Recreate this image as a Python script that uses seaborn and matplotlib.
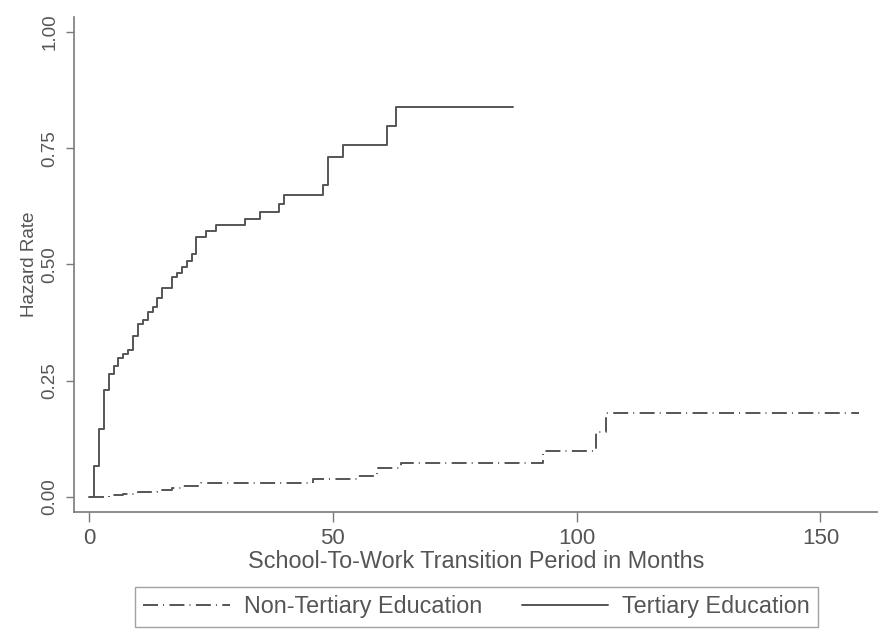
import matplotlib
matplotlib.use("Agg")
import matplotlib.pyplot as plt
import seaborn as sns

# step points: month of the step, rate after the step
tert_months = [0, 1, 2, 3, 4, 5, 6, 7, 8, 9, 10, 11, 12, 13, 14, 15, 17, 18,
               19, 20, 21, 22, 24, 26, 32, 35, 39, 40, 48, 49, 52, 61, 63, 87]
tert_rate = [0.0, 0.067, 0.146, 0.230, 0.265, 0.281, 0.298, 0.308, 0.316,
             0.346, 0.372, 0.381, 0.398, 0.409, 0.427, 0.449, 0.474, 0.482,
             0.495, 0.508, 0.523, 0.559, 0.571, 0.585, 0.598, 0.613, 0.629,
             0.649, 0.670, 0.731, 0.756, 0.797, 0.839, 0.839]

nontert_months = [0, 4, 7, 10, 14, 17, 19, 23, 46, 55, 59, 64, 93, 104, 106, 158]
nontert_rate = [0.0, 0.004, 0.007, 0.010, 0.016, 0.020, 0.024, 0.031, 0.038,
                0.046, 0.062, 0.074, 0.100, 0.139, 0.180, 0.180]

x_ticks = [0, 50, 100, 150]
y_ticks = [0.0, 0.25, 0.50, 0.75, 1.00]
series_names = ["Non-Tertiary Education", "Tertiary Education"]
x_title = "School-To-Work Transition Period in Months"
y_title = "Hazard Rate"

sns.set_theme(style="white")
plt.rcParams["font.family"] = ["Liberation Sans", "DejaVu Sans"]

TEXT = "#555555"
LINE = "#555555"
AXIS = "#7a7a7a"

fig = plt.figure(figsize=(8.79, 6.31), dpi=100)
ax = fig.add_axes([0.0842, 0.1886, 0.9158, 0.7845])

sns.lineplot(x=nontert_months, y=nontert_rate, drawstyle="steps-post",
             color=LINE, lw=1.4, linestyle=(0, (7.7, 2.6, 0.5, 2.8)),
             label=series_names[0], estimator=None, ax=ax)
sns.lineplot(x=tert_months, y=tert_rate, drawstyle="steps-post",
             color=LINE, lw=1.4, label=series_names[1], estimator=None, ax=ax)

ax.set_xlim(-3.1, 162)
ax.set_ylim(-0.032, 1.032)

sns.despine(ax=ax)
for side in ["left", "bottom"]:
    ax.spines[side].set_color(AXIS)
    ax.spines[side].set_linewidth(1.2)

ax.set_xticks(x_ticks)
ax.set_xticklabels([str(t) for t in x_ticks], fontsize=16, color=TEXT)
ax.set_yticks(y_ticks)
ax.set_yticklabels([f"{v:.2f}" for v in y_ticks], fontsize=13.5, color=TEXT,
                   rotation=90, va="center")
ax.tick_params(axis="both", direction="out", width=1.0,
               color=AXIS, left=True, bottom=True)
ax.tick_params(axis="x", length=7.5, pad=4)
ax.tick_params(axis="y", length=6, pad=5)

ax.set_xlabel(x_title, fontsize=16.8, color=TEXT, labelpad=1)
ax.set_ylabel(y_title, fontsize=13.6, color=TEXT, labelpad=3)

handles, labels = ax.get_legend_handles_labels()
ax.get_legend().remove()
leg = fig.legend(handles, labels, loc="lower center", bbox_to_anchor=(0.542, 0.007),
                 ncol=2, frameon=True, fancybox=False, edgecolor="#8a8a8a",
                 fontsize=16.8, handlelength=3.7, handletextpad=0.6,
                 columnspacing=1.7, borderpad=0.35, borderaxespad=0)
leg.get_frame().set_linewidth(1.0)
for t in leg.get_texts():
    t.set_color(TEXT)

fig.savefig("out.png", dpi=100, facecolor="white")
